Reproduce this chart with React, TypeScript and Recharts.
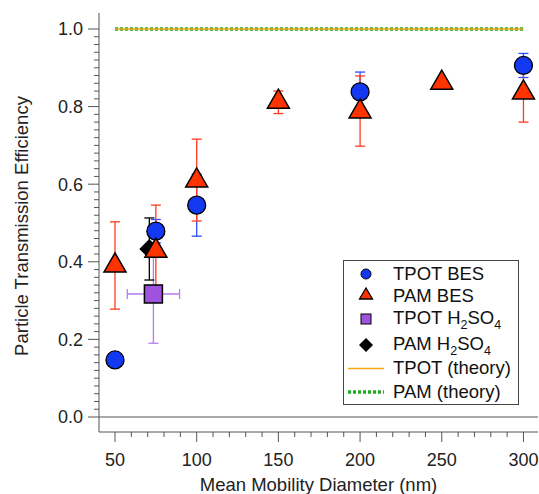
import React from "react";
import {
  ComposedChart,
  Scatter,
  Line,
  XAxis,
  YAxis,
  ErrorBar,
  ReferenceLine,
  Label,
} from "recharts";

// Measured transmission efficiencies (x = mobility diameter in nm)
const tpotBesX = [50, 75, 100, 200, 300];
const tpotBesY = [0.147, 0.479, 0.546, 0.838, 0.906];
const tpotBesErr = [0, 0.03, 0.08, 0.051, 0.031];

const pamBesX = [50, 75, 100, 150, 200, 250, 300];
const pamBesY = [0.39, 0.428, 0.609, 0.812, 0.787, 0.861, 0.836];
const pamBesErr: [number, number][] = [
  [0.112, 0.113],
  [0.116, 0.118],
  [0.104, 0.107],
  [0.03, 0.028],
  [0.089, 0.092],
  [0, 0],
  [0.076, 0.078],
];

const tpotH2so4X = [73.5];
const tpotH2so4Y = [0.317];
const tpotH2so4XErr = [16];
const tpotH2so4YErr = [0.127];

const pamH2so4X = [71];
const pamH2so4Y = [0.433];
const pamH2so4Err = [0.08];

// Theoretical curves
const theoryX = [50, 300];
const tpotTheoryY = [1.0, 1.0];
const pamTheoryY = [1.0, 1.0];

const xMajorTicks = [50, 100, 150, 200, 250, 300];
const yMajorTicks = [0, 0.2, 0.4, 0.6, 0.8, 1.0];
const yMajorLabels = ["0.0", "0.2", "0.4", "0.6", "0.8", "1.0"];

const xMinorTicks = Array.from({ length: 26 }, (_, i) => 50 + i * 10);
const yMinorTicks = Array.from({ length: 51 }, (_, i) => Math.round(i * 2) / 100);

const BLUE = "#1238f2";
const BLUE_ERR = "#2a4dff";
const RED = "#ff3300";
const RED_ERR = "#ff3a1f";
const PURPLE = "#9f52dd";
const PURPLE_ERR = "#b57cf0";
const ORANGE = "#f5a818";
const GREEN = "#1faa1f";
const AXIS = "#555";
const FONT = '"Liberation Sans", Arial, sans-serif';

const tpotBes = tpotBesX.map((x, i) => ({ x, y: tpotBesY[i], yErr: tpotBesErr[i] }));
const pamBes = pamBesX.map((x, i) => ({ x, y: pamBesY[i], yErr: pamBesErr[i] }));
const tpotH2so4 = tpotH2so4X.map((x, i) => ({
  x,
  y: tpotH2so4Y[i],
  xErr: tpotH2so4XErr[i],
  yErr: tpotH2so4YErr[i],
}));
const pamH2so4 = pamH2so4X.map((x, i) => ({ x, y: pamH2so4Y[i], yErr: pamH2so4Err[i] }));
const tpotTheory = theoryX.map((x, i) => ({ x, y: tpotTheoryY[i] }));
const pamTheory = theoryX.map((x, i) => ({ x, y: pamTheoryY[i] }));

const CircleMark = (p: any) => (
  <circle cx={p.cx} cy={p.cy} r={9} fill={BLUE} stroke="#000" strokeWidth={1.3} />
);
const TriangleMark = (p: any) => (
  <polygon
    points={`${p.cx},${p.cy - 12.7} ${p.cx - 11},${p.cy + 6.3} ${p.cx + 11},${p.cy + 6.3}`}
    fill={RED}
    stroke="#000"
    strokeWidth={1.5}
    strokeLinejoin="miter"
  />
);
const SquareMark = (p: any) => (
  <rect x={p.cx - 9} y={p.cy - 9} width={18} height={18} fill={PURPLE} stroke="#000" strokeWidth={1.5} />
);
const DiamondMark = (p: any) => (
  <polygon
    points={`${p.cx},${p.cy - 10} ${p.cx + 10},${p.cy} ${p.cx},${p.cy + 10} ${p.cx - 10},${p.cy}`}
    fill="#000"
  />
);

const isMajorY = (v: number) => Math.round(v * 100) % 20 === 0;

const YTick = (props: any) => {
  const { x, y, payload } = props;
  const v = payload.value as number;
  const major = isMajorY(v);
  const idx = yMajorTicks.findIndex((m) => Math.abs(m - v) < 1e-6);
  return (
    <g>
      <line x1={x} x2={x - (major ? 11 : 5)} y1={y} y2={y} stroke={AXIS} strokeWidth={1} />
      {major && (
        <text x={x - 16} y={y} dy="0.36em" textAnchor="end" fontSize={18} fill="#222" fontFamily={FONT}>
          {yMajorLabels[idx]}
        </text>
      )}
    </g>
  );
};

const XTick = (props: any) => {
  const { x, y, payload } = props;
  const v = payload.value as number;
  const major = xMajorTicks.includes(v);
  return (
    <g>
      <line x1={x} x2={x} y1={y} y2={y + (major ? 10 : 5)} stroke={AXIS} strokeWidth={1} />
      {major && (
        <text x={x} y={y + 34} textAnchor="middle" fontSize={18} fill="#222" fontFamily={FONT}>
          {v}
        </text>
      )}
    </g>
  );
};

function LegendBox() {
  const rowText = { fontSize: 18.5, fill: "#111", fontFamily: FONT } as const;
  return (
    <svg
      width={176}
      height={145}
      style={{ position: "absolute", left: 343, top: 260 }}
    >
      <rect x={0.5} y={0.5} width={175} height={144} fill="#fff" stroke="#444" strokeWidth={1} />
      <circle cx={23} cy={14} r={5} fill={BLUE} stroke="#000" strokeWidth={1} />
      <text x={50} y={19.5} {...rowText}>TPOT BES</text>

      <polygon points="23,28 16.5,39 29.5,39" fill={RED} stroke="#000" strokeWidth={1.3} />
      <text x={50} y={41.5} {...rowText}>PAM BES</text>

      <rect x={18} y={54} width={10} height={10} fill={PURPLE} stroke="#000" strokeWidth={1} />
      <text x={50} y={64} {...rowText}>
        TPOT H<tspan fontSize={12.5} dy={5}>2</tspan>
        <tspan dy={-5}>SO</tspan>
        <tspan fontSize={12.5} dy={5}>4</tspan>
      </text>

      <polygon points="23,78 30,85 23,92 16,85" fill="#000" />
      <text x={50} y={90} {...rowText}>
        PAM H<tspan fontSize={12.5} dy={5}>2</tspan>
        <tspan dy={-5}>SO</tspan>
        <tspan fontSize={12.5} dy={5}>4</tspan>
      </text>

      <line x1={5} x2={41} y1={108.5} y2={108.5} stroke={ORANGE} strokeWidth={1.5} />
      <text x={50} y={113.5} {...rowText}>TPOT (theory)</text>

      <line x1={5} x2={41} y1={132} y2={132} stroke={GREEN} strokeWidth={3.5} strokeDasharray="3 2" />
      <text x={50} y={137.5} {...rowText}>PAM (theory)</text>
    </svg>
  );
}

export default function App() {
  return (
    <div style={{ position: "absolute", left: 0, top: 0, width: 539, height: 494, background: "#fff" }}>
      <ComposedChart width={539} height={494} margin={{ top: 13, right: 1, left: 0, bottom: 0 }}>
        <XAxis
          type="number"
          dataKey="x"
          domain={[40.2, 308.9]}
          allowDataOverflow
          ticks={xMinorTicks}
          interval={0}
          tick={<XTick />}
          tickLine={false}
          tickSize={0}
          tickMargin={0}
          height={62}
          stroke={AXIS}
        >
          <Label
            content={(p: any) => {
              const vb = p.viewBox || { x: 99, width: 439 };
              return (
                <text
                  x={vb.x + vb.width / 2}
                  y={491}
                  textAnchor="middle"
                  fontSize={18.5}
                  fill="#222"
                  fontFamily={FONT}
                >
                  Mean Mobility Diameter (nm)
                </text>
              );
            }}
          />
        </XAxis>
        <XAxis xAxisId="top" orientation="top" type="number" domain={[40.2, 308.9]} height={0} tick={false} tickLine={false} stroke="#777" />
        <YAxis
          type="number"
          dataKey="y"
          domain={[-0.0387, 1.0412]}
          allowDataOverflow
          ticks={yMinorTicks}
          interval={0}
          tick={<YTick />}
          tickLine={false}
          tickSize={0}
          tickMargin={0}
          width={99}
          stroke={AXIS}
        >
          <Label
            content={() => (
              <text
                x={28}
                y={226}
                transform="rotate(-90 28 226)"
                textAnchor="middle"
                fontSize={18.5}
                fill="#222"
                fontFamily={FONT}
              >
                Particle Transmission Efficiency
              </text>
            )}
          />
        </YAxis>
        <YAxis yAxisId="right" orientation="right" type="number" domain={[-0.0387, 1.0412]} width={0} tick={false} tickLine={false} stroke="#c8c8c8" />

        <ReferenceLine y={0} stroke={AXIS} strokeWidth={1} />

        <Line
          data={pamTheory}
          dataKey="y"
          stroke={GREEN}
          strokeWidth={3.5}
          strokeDasharray="3 2"
          dot={false}
          activeDot={false}
          isAnimationActive={false}
        />
        <Line
          data={tpotTheory}
          dataKey="y"
          stroke={ORANGE}
          strokeWidth={1.5}
          dot={false}
          activeDot={false}
          isAnimationActive={false}
        />

        <Scatter data={tpotH2so4} shape={SquareMark} isAnimationActive={false}>
          <ErrorBar dataKey="xErr" direction="x" width={5} stroke={PURPLE_ERR} strokeWidth={1.3} />
          <ErrorBar dataKey="yErr" direction="y" width={5} stroke={PURPLE_ERR} strokeWidth={1.3} />
        </Scatter>
        <Scatter data={pamH2so4} shape={DiamondMark} isAnimationActive={false}>
          <ErrorBar dataKey="yErr" direction="y" width={5} stroke="#000" strokeWidth={1.3} />
        </Scatter>
        <Scatter data={tpotBes} shape={CircleMark} isAnimationActive={false}>
          <ErrorBar dataKey="yErr" direction="y" width={5} stroke={BLUE_ERR} strokeWidth={1.3} />
        </Scatter>
        <Scatter data={pamBes} shape={TriangleMark} isAnimationActive={false}>
          <ErrorBar dataKey="yErr" direction="y" width={5} stroke={RED_ERR} strokeWidth={1.3} />
        </Scatter>
      </ComposedChart>
      <LegendBox />
    </div>
  );
}
